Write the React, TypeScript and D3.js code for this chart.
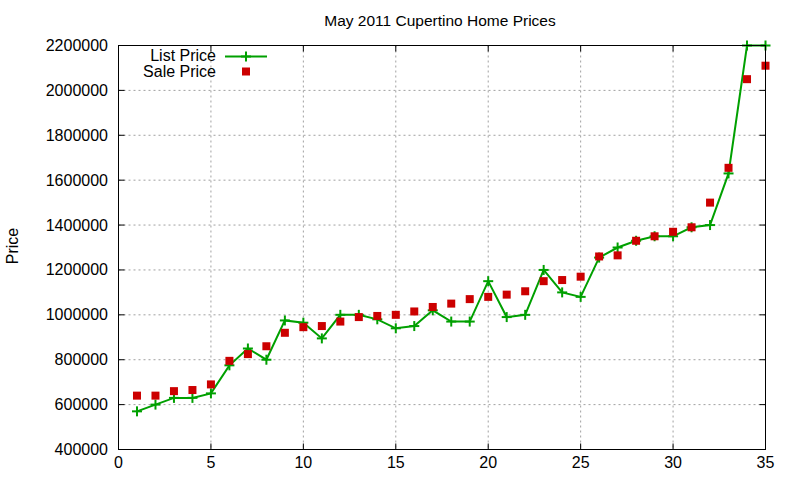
import React from 'react';
import { line, range, scaleLinear } from 'd3';

// values (list vs sale price, listings 1..35)
const listPrice = [
  570000, 600000, 630000, 630000, 650000, 775000, 850000, 800000, 975000, 965000,
  895000, 1000000, 1000000, 980000, 940000, 950000, 1020000, 970000, 970000, 1150000,
  990000, 1000000, 1200000, 1100000, 1080000, 1255000, 1300000, 1330000, 1350000, 1350000,
  1390000, 1400000, 1630000, 2200000, 2200000,
];
const salePrice = [
  640000, 640000, 660000, 665000, 690000, 795000, 825000, 860000, 920000, 945000,
  950000, 970000, 990000, 995000, 1000000, 1015000, 1035000, 1050000, 1070000, 1080000,
  1090000, 1105000, 1150000, 1155000, 1170000, 1260000, 1265000, 1330000, 1350000, 1370000,
  1390000, 1500000, 1655000, 2050000, 2110000,
];
const xTicks = [0, 5, 10, 15, 20, 25, 30, 35];
const yTicks = [400000, 600000, 800000, 1000000, 1200000, 1400000, 1600000, 1800000, 2000000, 2200000];

const W = 800;
const H = 480;
const L = 118.5;
const R = 765.5;
const T = 45.5;
const B = 449.5;
const GREEN = '#00a000';
const RED = '#cc0000';
const FONT = '"Liberation Sans", Arial, sans-serif';

const Cross = ({ x, y }: { x: number; y: number }) => (
  <g stroke={GREEN} strokeWidth={2}>
    <line x1={x - 5} x2={x + 5} y1={y} y2={y} />
    <line x1={x} x2={x} y1={y - 5} y2={y + 5} />
  </g>
);

export default function App() {
  const x = scaleLinear().domain([0, 35]).range([L, R]);
  const y = scaleLinear().domain([400000, 2200000]).range([B, T]);
  const idx = range(1, listPrice.length + 1);

  const path = line<number>()
    .x(i => x(i))
    .y(i => y(listPrice[i - 1]))(idx);

  return (
    <svg
      width={W}
      height={H}
      style={{ position: 'absolute', left: 0, top: 0, background: '#fff' }}
      fontFamily={FONT}
    >
      <rect width={W} height={H} fill="#fff" />
      <text x={440} y={26} textAnchor="middle" fontSize={15.5}>
        May 2011 Cupertino Home Prices
      </text>

      {/* grid */}
      <g stroke="#a0a0a0" strokeWidth={1} strokeDasharray="2,3">
        {xTicks.map(t => (
          <line key={'gx' + t} x1={x(t)} x2={x(t)} y1={T} y2={B} />
        ))}
        {yTicks.map(t => (
          <line key={'gy' + t} x1={L} x2={R} y1={y(t)} y2={y(t)} />
        ))}
      </g>

      {/* ticks, mirrored on all sides */}
      <g stroke="#000" strokeWidth={1}>
        {xTicks.map(t => (
          <g key={'tx' + t}>
            <line x1={x(t)} x2={x(t)} y1={B} y2={B - 6} />
            <line x1={x(t)} x2={x(t)} y1={T} y2={T + 6} />
          </g>
        ))}
        {yTicks.map(t => (
          <g key={'ty' + t}>
            <line x1={L} x2={L + 6} y1={y(t)} y2={y(t)} />
            <line x1={R} x2={R - 6} y1={y(t)} y2={y(t)} />
          </g>
        ))}
      </g>

      <g fontSize={16} fill="#000">
        {xTicks.map(t => (
          <text key={'lx' + t} x={x(t)} y={468} textAnchor="middle">
            {t}
          </text>
        ))}
        {yTicks.map(t => (
          <text key={'ly' + t} x={108} y={y(t) + 5.5} textAnchor="end">
            {t}
          </text>
        ))}
      </g>

      <text
        transform="translate(18,246) rotate(-90)"
        textAnchor="middle"
        fontSize={16}
      >
        Price
      </text>

      {/* series */}
      <path d={path ?? ''} fill="none" stroke={GREEN} strokeWidth={2} />
      {idx.map(i => (
        <Cross key={'c' + i} x={x(i)} y={y(listPrice[i - 1])} />
      ))}
      {idx.map(i => (
        <rect
          key={'s' + i}
          x={x(i) - 4}
          y={y(salePrice[i - 1]) - 4}
          width={8}
          height={8}
          fill={RED}
        />
      ))}

      {/* legend */}
      <g fontSize={16}>
        <text x={216} y={61} textAnchor="end">List Price</text>
        <line x1={225} x2={267} y1={56.5} y2={56.5} stroke={GREEN} strokeWidth={2} />
        <Cross x={246} y={56.5} />
        <text x={216} y={76.5} textAnchor="end">Sale Price</text>
        <rect x={242} y={67.5} width={8} height={8} fill={RED} />
      </g>

      <rect x={L} y={T} width={R - L} height={B - T} fill="none" stroke="#000" strokeWidth={1} />
    </svg>
  );
}
